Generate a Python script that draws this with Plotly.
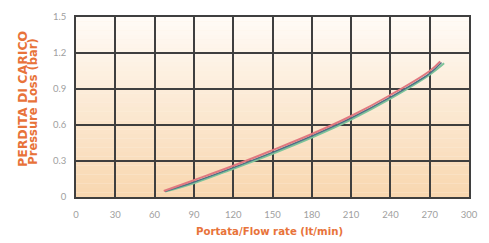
import plotly.graph_objects as go

# Data
flow_red = [67, 90, 120, 150, 180, 210, 240, 270, 278]
loss_red = [0.05, 0.14, 0.26, 0.39, 0.525, 0.675, 0.85, 1.05, 1.13]

flow_mid = [68, 90, 120, 150, 180, 210, 240, 270, 279]
loss_mid = [0.047, 0.125, 0.245, 0.372, 0.508, 0.658, 0.832, 1.03, 1.12]

flow_green = [68, 90, 120, 150, 180, 210, 240, 270, 281]
loss_green = [0.045, 0.115, 0.235, 0.36, 0.495, 0.645, 0.82, 1.02, 1.115]

x_ticks = [0, 30, 60, 90, 120, 150, 180, 210, 240, 270, 300]
y_ticks = [0, 0.3, 0.6, 0.9, 1.2, 1.5]

orange = "#e8733a"
title_font = "DejaVu Sans"

fig = go.Figure()
fig.add_trace(go.Scatter(x=flow_green, y=loss_green, mode="lines",
                         line=dict(color="#7cc49a", width=2, shape="spline"), showlegend=False))
fig.add_trace(go.Scatter(x=flow_mid, y=loss_mid, mode="lines",
                         line=dict(color="#4f6f86", width=1.5, shape="spline"), showlegend=False))
fig.add_trace(go.Scatter(x=flow_red, y=loss_red, mode="lines",
                         line=dict(color="#e07880", width=2, shape="spline"), showlegend=False))

# vertical gradient background
shapes = []
n = 40
top = (255, 251, 246)
bot = (248, 215, 176)
for i in range(n):
    t = i / (n - 1)
    c = tuple(int(round(bot[k] + (top[k] - bot[k]) * t)) for k in range(3))
    shapes.append(dict(type="rect", xref="paper", yref="paper",
                       x0=0, x1=1, y0=i / n, y1=(i + 1) / n,
                       fillcolor="rgb(%d,%d,%d)" % c, line=dict(width=0), layer="below"))

axis_common = dict(showgrid=True, gridcolor="#3f3f3f", gridwidth=1.7,
                   showline=True, linecolor="#3f3f3f", linewidth=1.7, mirror=True,
                   zeroline=False, ticks="outside", tickcolor="rgba(0,0,0,0)",
                   tickfont=dict(family="Lato", size=9.5, color="#a0a0a0"))

fig.update_layout(
    width=489, height=243,
    margin=dict(l=76, r=18, t=11, b=46),
    paper_bgcolor="white",
    plot_bgcolor="#fdf0e2",
    shapes=shapes,
    font=dict(family="Lato", color="#a0a0a0", size=9),
    xaxis=dict(range=[0, 300], tickvals=x_ticks, ticktext=[str(v) for v in x_ticks],
               ticklen=8, **axis_common),
    yaxis=dict(range=[0, 1.5], tickvals=y_ticks, ticktext=["0", "0.3", "0.6", "0.9", "1.2", "1.5"],
               ticklen=6, **axis_common),
    annotations=[
        dict(text="<b>PERDITA DI CARICO</b>",
             xref="paper", yref="paper", x=-0.138, y=0.543, textangle=-90,
             showarrow=False, xanchor="center", yanchor="middle",
             font=dict(family=title_font, size=12.5, color=orange)),
        dict(text="<b>Pressure Loss (bar)</b>",
             xref="paper", yref="paper", x=-0.108, y=0.527, textangle=-90,
             showarrow=False, xanchor="center", yanchor="middle",
             font=dict(family=title_font, size=11.5, color=orange)),
        dict(text="<b>Portata/Flow rate (lt/min)</b>",
             xref="paper", yref="paper", x=0.492, y=-0.194,
             showarrow=False, xanchor="center", yanchor="middle",
             font=dict(family=title_font, size=10.2, color=orange)),
    ],
)

fig.write_html("out.html", config={"displayModeBar": False},
               post_script="document.body.style.margin='0';document.body.style.overflow='hidden';")
